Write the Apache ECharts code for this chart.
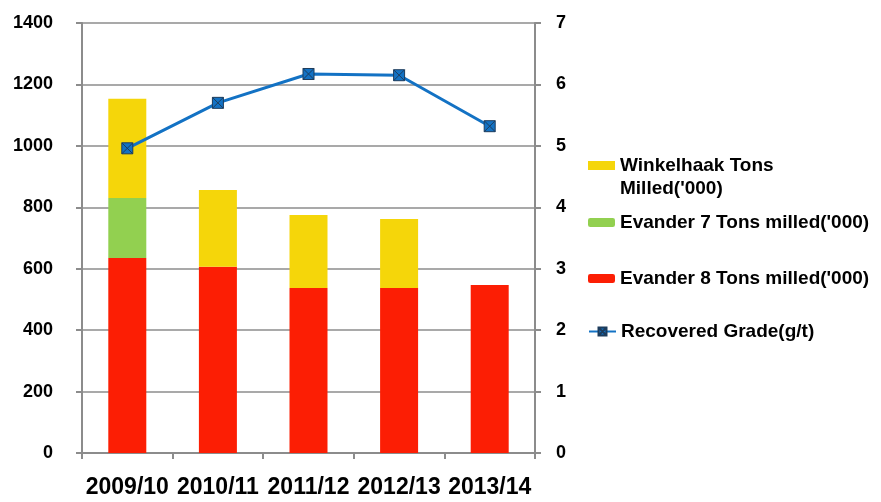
<!DOCTYPE html>
<html>
<head>
<meta charset="utf-8">
<script src="https://cdn.jsdelivr.net/npm/echarts@6/dist/echarts.min.js"></script>
<style>html,body{margin:0;padding:0;background:#fff}#c{width:881px;height:502px}</style>
</head>
<body>
<div id="c"></div>
<script>
const categories = ['2009/10', '2010/11', '2011/12', '2012/13', '2013/14'];
const evander8 = [635, 606, 537, 537, 547];
const evander7 = [195, 0, 0, 0, 0];
const winkelhaak = [323, 250, 238, 225, 0];
const recoveredGrade = [4.96, 5.70, 6.17, 6.15, 5.32];
const leftTicks = [0, 200, 400, 600, 800, 1000, 1200, 1400];
const rightTicks = [0, 1, 2, 3, 4, 5, 6, 7];

const FONT = '"Liberation Sans", Arial, sans-serif';
const axisGrey = '#8c8c8c';
const chart = echarts.init(document.getElementById('c'));
const legendText = {fontFamily: FONT, fontWeight: 'bold', fontSize: 19, color: '#000'};
const markerPath = 'path://M0,0H10V10H0Z M0,0L10,10 M10,0L0,10';
const topAlignedRect = 'path://M0,0H27V9H0Z M0,32L0.01,32';

chart.setOption({
  animation: false,
  backgroundColor: '#fff',
  grid: {left: 82, right: 346, top: 23, bottom: 49},
  legend: [
    {data: [{name: 'Winkelhaak Tons\nMilled(\'000)', icon: topAlignedRect}], left: 583, top: 149, itemWidth: 27, itemHeight: 32,
     textStyle: Object.assign({lineHeight: 23}, legendText)},
    {data: ['Evander 7 Tons milled(\'000)'], left: 583, top: 208, itemWidth: 27, itemHeight: 9, textStyle: legendText},
    {data: ['Evander 8 Tons milled(\'000)'], left: 583, top: 264, itemWidth: 27, itemHeight: 9, textStyle: legendText},
    {data: ['Recovered Grade(g/t)'], left: 583, top: 317, itemWidth: 27, itemHeight: 10, textStyle: legendText}
  ],
  xAxis: {
    type: 'category', data: categories,
    axisLine: {lineStyle: {color: axisGrey, width: 2}},
    axisTick: {show: true, length: 6, lineStyle: {color: axisGrey, width: 2}},
    axisLabel: {interval: 0, fontFamily: FONT, fontWeight: 'bold', fontSize: 23, color: '#000', margin: 23}
  },
  yAxis: [
    {type: 'value', min: leftTicks[0], max: leftTicks[leftTicks.length - 1], interval: 200,
     axisLine: {show: true, lineStyle: {color: axisGrey, width: 2}},
     axisTick: {show: true, length: 6, lineStyle: {color: axisGrey, width: 2}},
     splitLine: {lineStyle: {color: axisGrey, width: 1.5}},
     axisLabel: {fontFamily: FONT, fontWeight: 'bold', fontSize: 18, color: '#000', margin: 29,
                 formatter: v => String(v)}},
    {type: 'value', min: rightTicks[0], max: rightTicks[rightTicks.length - 1], interval: 1, position: 'right',
     axisLine: {show: true, lineStyle: {color: axisGrey, width: 2}},
     axisTick: {show: true, length: 6, lineStyle: {color: axisGrey, width: 2}},
     splitLine: {show: false},
     axisLabel: {fontFamily: FONT, fontWeight: 'bold', fontSize: 18, color: '#000', margin: 21,
                 formatter: v => String(v)}}
  ],
  series: [
    {name: 'Evander 8 Tons milled(\'000)', type: 'bar', stack: 'tons', data: evander8, barWidth: 38,
     itemStyle: {color: '#fc1e04'}},
    {name: 'Evander 7 Tons milled(\'000)', type: 'bar', stack: 'tons', data: evander7, barWidth: 38,
     itemStyle: {color: '#92d050'}},
    {name: 'Winkelhaak Tons\nMilled(\'000)', type: 'bar', stack: 'tons', data: winkelhaak, barWidth: 38,
     itemStyle: {color: '#f5d60a'}},
    {name: 'Recovered Grade(g/t)', type: 'line', yAxisIndex: 1, data: recoveredGrade,
     symbol: markerPath, symbolSize: 11,
     lineStyle: {color: '#1372c4', width: 3},
     itemStyle: {color: '#1372c4', borderColor: '#1d3c5c', borderWidth: 1}}
  ]
});
</script>
</body>
</html>
